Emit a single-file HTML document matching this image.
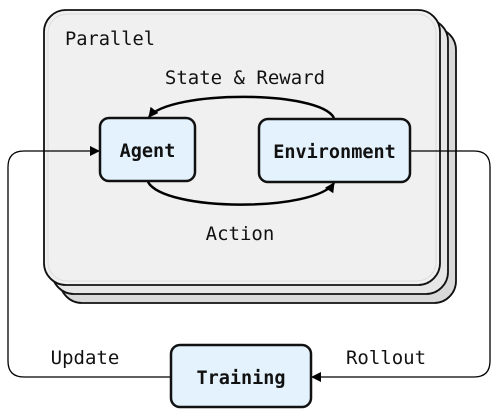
<!DOCTYPE html>
<html><head><style>
html,body{margin:0;padding:0;background:#fff;width:495px;height:409px;overflow:hidden}
text{font-family:"DejaVu Sans Mono","Liberation Mono",monospace}
</style></head><body>
<svg width="495" height="409" viewBox="0 0 495 409">
<defs>
<marker id="a" markerWidth="10" markerHeight="10" refX="9" refY="5" orient="auto" markerUnits="userSpaceOnUse">
<path d="M0,0 L10,5 L0,10 z" fill="#000"/></marker>
</defs>
<rect x="60" y="28" width="396" height="275" rx="22" fill="#d9d9d9" stroke="#111" stroke-width="1.8"/>
<rect x="52" y="19" width="396" height="275" rx="22" fill="#e6e6e6" stroke="#111" stroke-width="1.8"/>
<rect x="44" y="10" width="396" height="275" rx="22" fill="#f0f0f0" stroke="#111" stroke-width="1.8"/>
<rect x="48" y="14" width="388" height="267" rx="19" fill="none" stroke="#ddd" stroke-width="1"/>
<text x="65" y="45" font-size="18.7" fill="#111">Parallel</text>
<text x="245" y="84" font-size="19" fill="#111" text-anchor="middle">State &amp; Reward</text>
<text x="240" y="240" font-size="19" fill="#111" text-anchor="middle">Action</text>
<path d="M334,118 C320,90 170,90 149,117" fill="none" stroke="#000" stroke-width="2.5" marker-end="url(#a)"/>
<path d="M148,182 C165,212 315,212 334,183" fill="none" stroke="#000" stroke-width="2.5" marker-end="url(#a)"/>
<path d="M171,377 H24 Q8,377 8,361 V167 Q8,151 24,151 H99" fill="none" stroke="#000" stroke-width="1.3" marker-end="url(#a)"/>
<path d="M411,151 H474 Q490,151 490,167 V361 Q490,377 474,377 H312" fill="none" stroke="#000" stroke-width="1.3" marker-end="url(#a)"/>
<rect x="100" y="118" width="95" height="63" rx="9" fill="#e3f2fc" stroke="#111" stroke-width="2.5"/>
<rect x="259" y="119" width="151" height="63" rx="9" fill="#e3f2fc" stroke="#111" stroke-width="2.5"/>
<rect x="171" y="345" width="140" height="62" rx="9" fill="#e3f2fc" stroke="#111" stroke-width="2.5"/>
<text x="147.5" y="157" font-size="18.5" font-weight="bold" fill="#111" text-anchor="middle">Agent</text>
<text x="334.5" y="158" font-size="18.5" font-weight="bold" fill="#111" text-anchor="middle">Environment</text>
<text x="241" y="384" font-size="18.5" font-weight="bold" fill="#111" text-anchor="middle">Training</text>
<text x="85" y="364" font-size="19" fill="#111" text-anchor="middle">Update</text>
<text x="386" y="364" font-size="19" fill="#111" text-anchor="middle">Rollout</text>
</svg>
</body></html>
